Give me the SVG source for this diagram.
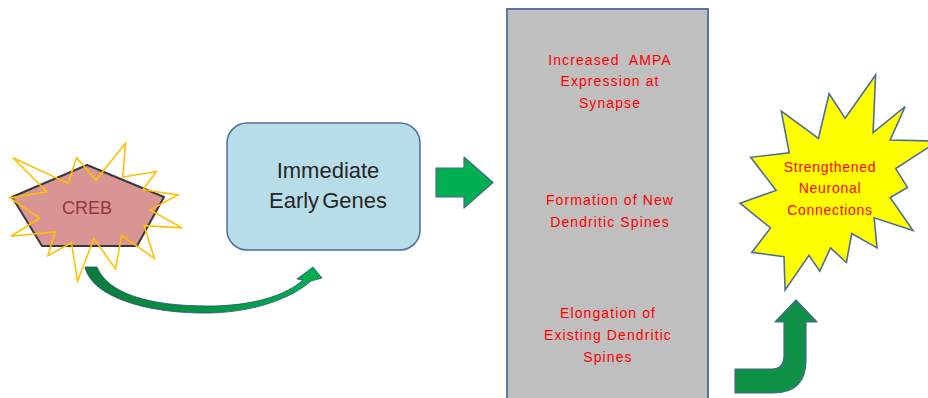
<svg xmlns="http://www.w3.org/2000/svg" width="928" height="398" viewBox="0 0 928 398">
<defs>
<linearGradient id="gCurve" x1="85" y1="0" x2="322" y2="0" gradientUnits="userSpaceOnUse">
<stop offset="0" stop-color="#0B7A3B"/>
<stop offset="1" stop-color="#00B050"/>
</linearGradient>
<style>
.red{font-family:"Liberation Sans",Arial,sans-serif;font-size:14px;letter-spacing:1.1px;fill:#FF0000;text-anchor:middle}
.ylw{font-family:"Liberation Sans",Arial,sans-serif;font-size:14px;letter-spacing:0.7px;fill:#FF0000;text-anchor:middle}
.blk{font-family:"Liberation Sans",Arial,sans-serif;font-size:22px;fill:#262626;text-anchor:middle}
.edge{stroke:#4A6690;stroke-width:1.2;stroke-linejoin:round}
</style>
</defs>
<rect width="928" height="398" fill="#FFFFFF"/>

<g id="creb">
<polygon points="87,165 164,197 137,246 42,246 12,197" fill="#D99594" stroke="#3A3A3A" stroke-width="2" stroke-linejoin="round"/>
<polygon points="96,180.1 125.6,143 122.7,177 156.4,171.5 143,189.7 178,195 150.2,209.9 182,227.9 144.1,225.7 154.5,258.6 121.6,235.4 115.5,269.1 93.9,238.4 77.6,281 71.4,242.8 47.9,255.6 55.1,232 11.1,236.2 39.6,218.2 10,198 46.8,191.7 12.9,157.7 68.2,183.4 76.5,157.7" fill="none" stroke="#FFC000" stroke-width="1.6" stroke-linejoin="miter"/>
<text x="87" y="214" font-family="Liberation Sans, Arial, sans-serif" font-size="18" fill="#953735" text-anchor="middle">CREB</text>
</g>

<g id="ieg">
<rect x="227" y="123" width="193" height="127" rx="20" ry="20" fill="#B7DEE8" stroke="#4F6D9A" stroke-width="1.5"/>
<text class="blk" x="328" y="178">Immediate</text>
<text class="blk" x="328" y="208" word-spacing="-3">Early Genes</text>
</g>

<g id="effects">
<rect x="507" y="9" width="201" height="400" fill="#BFBFBF" stroke="#5A76A0" stroke-width="2"/>
<text class="red" x="610" y="65">Increased&#160; AMPA</text>
<text class="red" x="610" y="86">Expression at</text>
<text class="red" x="610" y="108">Synapse</text>
<text class="red" x="610" y="205">Formation of New</text>
<text class="red" x="610" y="227">Dendritic Spines</text>
<text class="red" x="608" y="318">Elongation of</text>
<text class="red" x="608" y="340">Existing Dendritic</text>
<text class="red" x="608" y="362">Spines</text>
</g>

<g id="result">
<polygon points="845.1,118.2 875.6,75 873.1,132.5 905.1,106.6 890.2,140 938,141.1 895.7,168.6 907.5,187.4 890.2,197.5 913,230.6 874.2,217.8 877,247.9 851.7,233.6 846.4,262.5 830.5,247.9 819.8,271.2 809,255.4 785.1,290 784,256.6 751.8,252.4 770.5,228 740,203.2 776.1,190.4 750.7,157.3 789.2,152.8 781.3,111.1 818.4,138.5 829.1,93.8" fill="#FFFF00" stroke="#4F6D9A" stroke-width="1.6" stroke-linejoin="miter"/>
<text class="ylw" x="830" y="172">Strengthened</text>
<text class="ylw" x="830" y="193">Neuronal</text>
<text class="ylw" x="830" y="215">Connections</text>
</g>

<g id="connectors">
<path d="M85,267 C92,298 150,314 210,313 C255,312 292,298 311,281 L322,278 L313,267 L297,279 L303,280 C285,296 252,306 208,306 C150,306 108,294 97,267 Z" fill="url(#gCurve)" stroke="#2F4A7A" stroke-width="0.8" stroke-linejoin="round"/>
<polygon class="edge" points="436,168 464,168 464,157 493,182.5 464,208 464,197 436,197" fill="#00B050"/>
<path class="edge" d="M735,369 L772,369 Q784,369 784,355 L784,322 L775,322 L796,300 L817,322 L806,322 L806,360 Q806,393 773,393 L735,393 Z" fill="#0F9148"/>
</g>
</svg>
